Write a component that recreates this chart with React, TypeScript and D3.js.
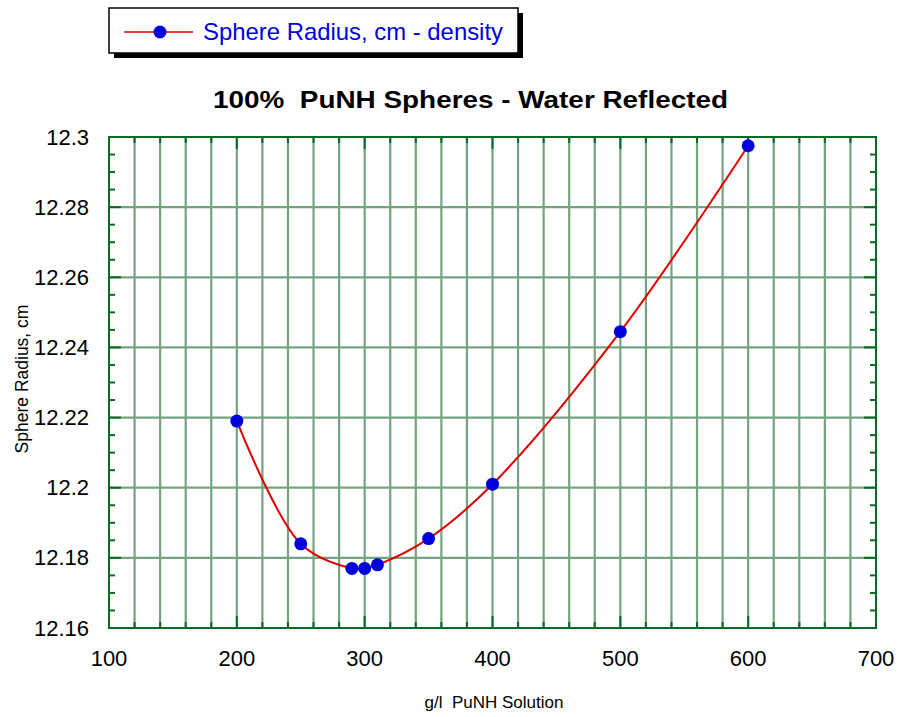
import React from "react";
import * as d3 from "d3";

const density = [200, 250, 290, 300, 310, 350, 400, 500, 600];
const radius = [12.219, 12.184, 12.177, 12.177, 12.178, 12.1855, 12.201, 12.2445, 12.2975];
const xTicks = [100, 200, 300, 400, 500, 600, 700];
const yTicks = [12.16, 12.18, 12.2, 12.22, 12.24, 12.26, 12.28, 12.3];
const titleText = "100%  PuNH Spheres - Water Reflected";
const legendText = "Sphere Radius, cm - density";
const xTitle = "g/l  PuNH Solution";
const yTitle = "Sphere Radius, cm";

const W = 900, H = 717;
const L = 109, R = 876, T = 137, B = 628;
const font = "'Liberation Sans', Arial, Helvetica, sans-serif";
const axisColor = "#0a6a24";
const gridColor = "#74a47f";
const pre = { whiteSpace: "pre" as const };

export default function App() {
  const x = d3.scaleLinear().domain([100, 700]).range([L, R]);
  const y = d3.scaleLinear().domain([12.16, 12.3]).range([B, T]);
  const xMinor = d3.range(100, 700.1, 20);
  const yMinor = d3.range(0, 28.1, 1).map((i) => 12.16 + i * 0.005);
  const data = density.map((d, i) => [d, radius[i]] as [number, number]);
  const line = d3
    .line<[number, number]>()
    .x((d) => x(d[0]))
    .y((d) => y(d[1]))
    .curve(d3.curveCatmullRom.alpha(0.5));
  const isMajorX = (v: number) => Math.abs(v / 100 - Math.round(v / 100)) < 1e-6;
  const isMajorY = (v: number) => Math.abs((v - 12.16) / 0.02 - Math.round((v - 12.16) / 0.02)) < 1e-6;

  return (
    <svg width={W} height={H} style={{ position: "absolute", left: 0, top: 0, background: "#fff" }}>
      {/* legend */}
      <rect x={114} y={13} width={409} height={45} fill="#000" />
      <rect x={109} y={8} width={409} height={45} fill="#fff" stroke="#000" strokeWidth={1.5} />
      <line x1={124} x2={193} y1={32} y2={32} stroke="#e00000" strokeWidth={1.5} />
      <circle cx={160} cy={32} r={6.5} fill="#0000dd" />
      <text x={203} y={40} fontFamily={font} fontSize={24} fill="#0000dd" textLength={300} lengthAdjust="spacingAndGlyphs">{legendText}</text>

      {/* title */}
      <text x={213} y={108} fontFamily={font} fontSize={23} fontWeight="bold" fill="#000" style={pre} textLength={515} lengthAdjust="spacingAndGlyphs">
        {titleText}
      </text>

      {/* vertical grid */}
      {xMinor.filter((v) => v > 100 && v < 700).map((v) => (
        <line key={"gx" + v} x1={x(v)} x2={x(v)} y1={T} y2={B} stroke={gridColor} strokeWidth={2.2} />
      ))}
      {/* horizontal grid */}
      {yTicks.filter((v) => v > 12.161 && v < 12.299).map((v) => (
        <line key={"gy" + v} x1={L} x2={R} y1={y(v)} y2={y(v)} stroke={gridColor} strokeWidth={2.2} />
      ))}

      {/* frame */}
      <rect x={L} y={T} width={R - L} height={B - T} fill="none" stroke={axisColor} strokeWidth={2} />

      {/* x ticks top & bottom */}
      {xMinor.map((v) => {
        const len = isMajorX(v) ? 12 : 6;
        return (
          <g key={"tx" + v}>
            <line x1={x(v)} x2={x(v)} y1={B} y2={B - len} stroke={axisColor} strokeWidth={2} />
            <line x1={x(v)} x2={x(v)} y1={T} y2={T + len} stroke={axisColor} strokeWidth={2} />
          </g>
        );
      })}
      {/* y ticks left & right */}
      {yMinor.map((v, i) => {
        const len = isMajorY(v) ? 12 : 6;
        return (
          <g key={"ty" + i}>
            <line x1={L} x2={L + len} y1={y(v)} y2={y(v)} stroke={axisColor} strokeWidth={2} />
            <line x1={R} x2={R - len} y1={y(v)} y2={y(v)} stroke={axisColor} strokeWidth={2} />
          </g>
        );
      })}

      {/* tick labels */}
      {xTicks.map((v) => (
        <text key={"lx" + v} x={x(v)} y={666} textAnchor="middle" fontFamily={font} fontSize={22} fill="#000">
          {v}
        </text>
      ))}
      {yTicks.map((v) => (
        <text key={"ly" + v} x={89} y={y(v) + 7.5} textAnchor="end" fontFamily={font} fontSize={22} fill="#000">
          {d3.format("")(+v.toFixed(2))}
        </text>
      ))}

      {/* axis titles */}
      <text x={494} y={708} textAnchor="middle" fontFamily={font} fontSize={17} fill="#000" style={pre}>{xTitle}</text>
      <text transform={`translate(28,379) rotate(-90)`} textAnchor="middle" fontFamily={font} fontSize={17.5} fill="#000">
        {yTitle}
      </text>

      {/* data */}
      <path d={line(data) || ""} fill="none" stroke="#e00000" strokeWidth={2} />
      {data.map((d, i) => (
        <circle key={"p" + i} cx={x(d[0])} cy={y(d[1])} r={6.5} fill="#0000dd" />
      ))}
    </svg>
  );
}
